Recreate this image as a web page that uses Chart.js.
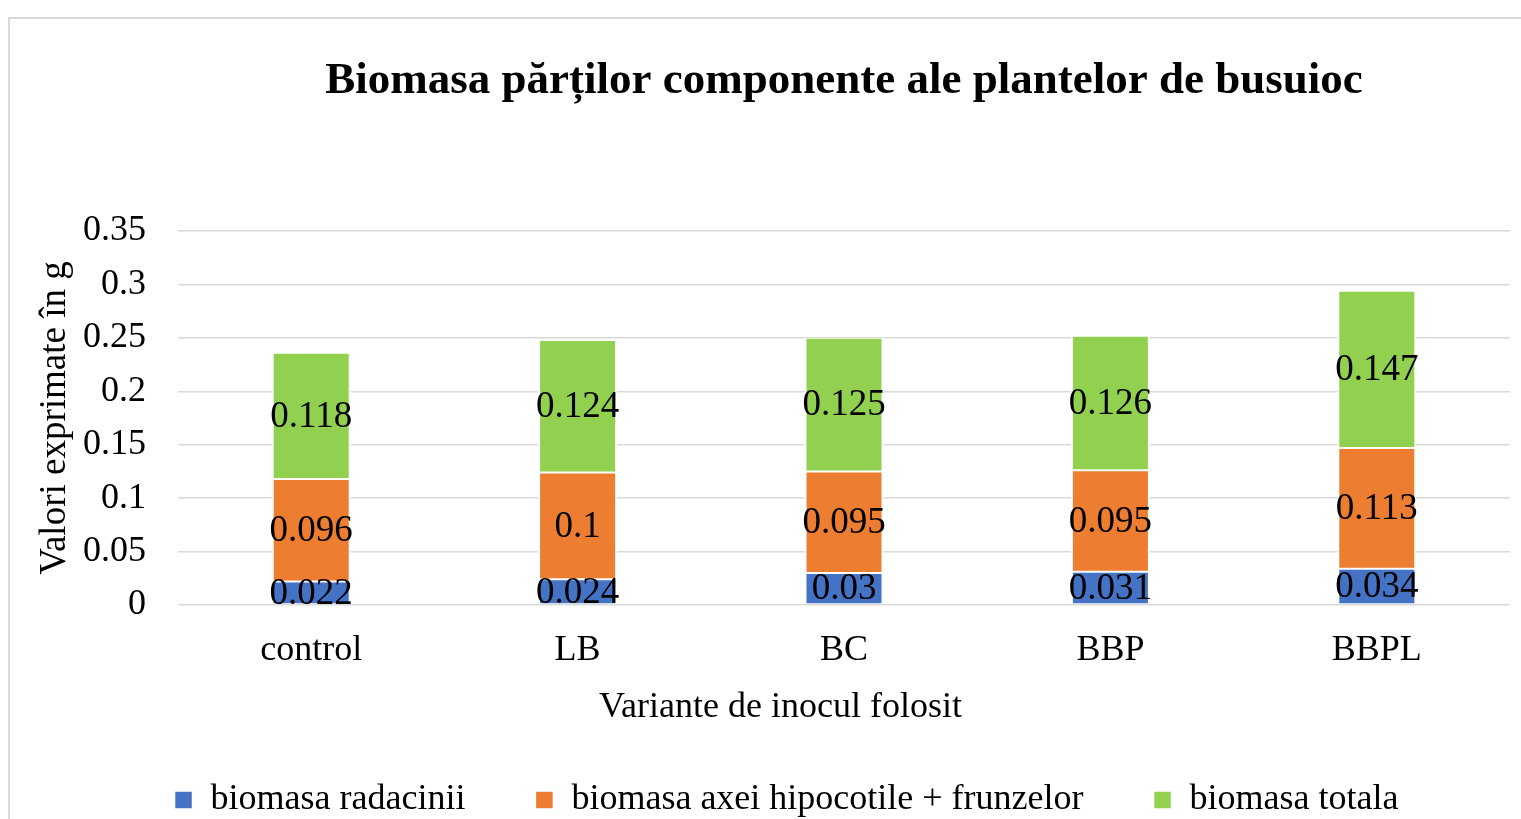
<!DOCTYPE html>
<html>
<head>
<meta charset="utf-8">
<script src="https://cdn.jsdelivr.net/npm/chart.js@4.4.1/dist/chart.umd.min.js"></script>
<style>
  html, body { margin: 0; padding: 0; overflow: hidden; background: #fff; width: 1521px; height: 819px; }
  #frame { position: absolute; left: 8px; top: 17px; width: 1600px; height: 900px; border: 2px solid #D9D9D9; box-sizing: border-box; }
  #c { position: absolute; left: 0; top: 0; }
</style>
</head>
<body>
<div id="frame"></div>
<canvas id="c" width="1521" height="828"></canvas>
<script>
const categories = ['control', 'LB', 'BC', 'BBP', 'BBPL'];
const biomasaRadacinii = [0.022, 0.024, 0.03, 0.031, 0.034];
const biomasaAxei = [0.096, 0.1, 0.095, 0.095, 0.113];
const biomasaTotala = [0.118, 0.124, 0.125, 0.126, 0.147];
const yTickLabels = ['0', '0.05', '0.1', '0.15', '0.2', '0.25', '0.3', '0.35'];
const seriesNames = ['biomasa radacinii', 'biomasa axei hipocotile + frunzelor', 'biomasa totala'];
const xAxisTitle = 'Variante de inocul folosit';

const FONT = '"Liberation Serif", "Times New Roman", serif';

const segLabels = {
  id: 'segLabels',
  afterDatasetsDraw(chart) {
    const ctx = chart.ctx;
    ctx.save();
    ctx.font = '37px ' + FONT;
    ctx.fillStyle = '#000';
    ctx.textAlign = 'center';
    ctx.textBaseline = 'middle';
    chart.data.datasets.forEach((ds, i) => {
      const meta = chart.getDatasetMeta(i);
      meta.data.forEach((el, j) => {
        const p = el.getProps(['x', 'y', 'base'], true);
        ctx.fillText(String(ds.data[j]), p.x, (p.y + p.base) / 2 + 1);
      });
    });
    ctx.restore();
  }
};

// x-axis title centred on the whole chart frame (as in the original), not on the plot area
const xTitlePlugin = {
  id: 'xTitle',
  afterDraw(chart) {
    const xs = chart.scales.x;
    const ctx = chart.ctx;
    ctx.save();
    ctx.font = '36px ' + FONT;
    ctx.fillStyle = '#000';
    ctx.textAlign = 'center';
    ctx.textBaseline = 'middle';
    ctx.fillText(xAxisTitle, chart.width / 2 + 20, xs.bottom - 18 + 14);
    ctx.restore();
  }
};

const barCommon = {
  borderColor: '#FFFFFF',
  borderWidth: { left: 2, right: 2, top: 1, bottom: 1 },
  borderSkipped: false,
  barPercentage: 0.2966,
  categoryPercentage: 1.0
};

new Chart(document.getElementById('c'), {
  type: 'bar',
  data: {
    labels: categories,
    datasets: [
      Object.assign({ label: seriesNames[0], data: biomasaRadacinii, backgroundColor: '#4472C4' }, barCommon),
      Object.assign({ label: seriesNames[1], data: biomasaAxei, backgroundColor: '#ED7D31' }, barCommon),
      Object.assign({ label: seriesNames[2], data: biomasaTotala, backgroundColor: '#92D050' }, barCommon)
    ]
  },
  plugins: [segLabels, xTitlePlugin],
  options: {
    responsive: false,
    animation: false,
    layout: { padding: { left: 63, right: 11, top: 0, bottom: 0 } },
    plugins: {
      title: {
        display: true,
        fullSize: false,
        text: 'Biomasa părților componente ale plantelor de busuioc',
        color: '#000',
        font: { family: FONT, size: 45, weight: 'bold', lineHeight: 1.2 },
        padding: { top: 54, bottom: 123 }
      },
      legend: {
        position: 'bottom',
        labels: {
          color: '#000',
          font: { family: FONT, size: 36 },
          boxWidth: 18,
          boxHeight: 18,
          padding: 70
        }
      },
      tooltip: { enabled: false }
    },
    scales: {
      x: {
        stacked: true,
        grid: { display: false, drawTicks: false },
        border: { display: false },
        ticks: { color: '#000', font: { family: FONT, size: 36, lineHeight: 1 }, padding: 28 },
        title: {
          display: true,
          text: xAxisTitle,
          color: 'rgba(0,0,0,0)',
          font: { family: FONT, size: 36, lineHeight: 1 },
          padding: { top: -7, bottom: -14 }
        }
      },
      y: {
        stacked: true,
        min: 0,
        max: 0.35,
        grid: { color: '#D9D9D9', lineWidth: 1.5, drawTicks: false },
        border: { display: false },
        ticks: {
          stepSize: 0.05,
          color: '#000',
          font: { family: FONT, size: 36, lineHeight: 1 },
          padding: 32,
          callback: (v, i) => yTickLabels[i]
        },
        title: {
          display: true,
          text: 'Valori exprimate în g',
          color: '#000',
          font: { family: FONT, size: 37, lineHeight: 1 },
          padding: { top: -26.5, bottom: -22.5 }
        }
      }
    }
  }
});
</script>
</body>
</html>
